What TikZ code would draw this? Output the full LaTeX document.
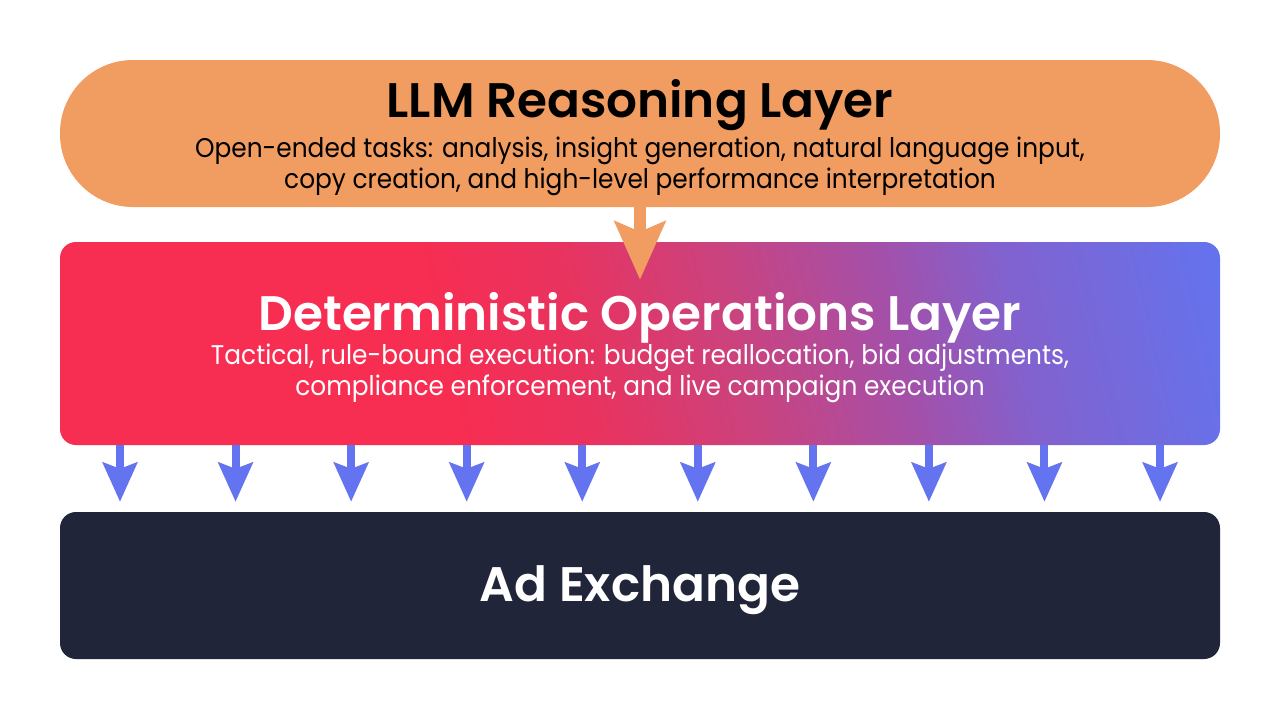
\documentclass[tikz,border=0pt]{standalone}
\usepackage{fontspec}
\setmainfont{Poppins}
\newfontfamily\titlefam{Poppins SemiBold}
\newfontfamily\subfam{Poppins}[FakeStretch=0.92]
\usetikzlibrary{arrows.meta,calc}
\definecolor{pillorange}{HTML}{F19C60}
\definecolor{gred}{HTML}{F72D52}
\definecolor{gredpink}{HTML}{E8335F}
\definecolor{gpink}{HTML}{CA437F}
\definecolor{gviolet}{HTML}{A350AA}
\definecolor{gpurple}{HTML}{8262CE}
\definecolor{gblue}{HTML}{6373EE}
\definecolor{darknavy}{HTML}{212539}
\definecolor{arrowblue}{HTML}{6474F1}
\pgfdeclarehorizontalshading{opgrad}{100bp}{color(0bp)=(gred); color(40bp)=(gred); color(47bp)=(gredpink); color(55bp)=(gpink); color(63bp)=(gviolet); color(69bp)=(gpurple); color(80bp)=(gblue); color(100bp)=(gblue)}
\tikzset{
  layerbox/.style={inner sep=0pt, minimum width=1160pt},
  pill/.style={layerbox, fill=pillorange, minimum height=147pt, rounded corners=73pt},
  gradbox/.style={layerbox, shade, shading=opgrad, shading angle=13, minimum height=203pt, rounded corners=16pt},
  darkbox/.style={layerbox, fill=darknavy, minimum height=147pt, rounded corners=16pt},
  titletext/.style={anchor=base, inner sep=0pt, font=\titlefam\fontsize{48.5}{48.5}\selectfont},
  subtext/.style={anchor=base, inner sep=0pt, font=\subfam\fontsize{27}{27}\selectfont},
  orangearrow/.style={draw=pillorange, line width=12pt, -{Stealth[length=58pt, width=50pt, inset=10pt, fill=pillorange]}},
  bluearrow/.style={draw=arrowblue, line width=8pt, -{Stealth[length=39pt, width=34pt, inset=6pt, fill=arrowblue]}}
}
\begin{document}
\begin{tikzpicture}[x=1pt,y=-1pt]
\useasboundingbox (0,0) rectangle (1280,720);
\fill[white] (0,0) rectangle (1280,720);
\node[pill] (llm) at (640,133.5) {};
\node[gradbox] (det) at (640,343.5) {};
\node[darkbox] (ad) at (640,585.5) {};
\draw[orangearrow] (llm.south) -- ([yshift=-38pt]det.north);
\foreach \i in {0,...,9}{
  \coordinate (col\i) at ({120+115.56*\i},0);
  \draw[bluearrow, shorten >=10pt] (col\i |- det.south) -- (col\i |- ad.north);
}
\node[titletext, text=black] (t1) at (640,117) {LLM Reasoning Layer};
\node[subtext, text=black] (s1a) at (640,157) {Open-ended tasks: analysis, insight generation, natural language input,};
\node[subtext, text=black] (s1b) at (640,188) {copy creation, and high-level performance interpretation};
\node[titletext, text=white] (t2) at (640,330) {Deterministic Operations Layer};
\node[subtext, text=white] (s2a) at (640,364) {Tactical, rule-bound execution: budget reallocation, bid adjustments,};
\node[subtext, text=white] (s2b) at (640,395) {compliance enforcement, and live campaign execution};
\node[titletext, text=white] (t3) at (640,601) {Ad Exchange};
\end{tikzpicture}
\end{document}
